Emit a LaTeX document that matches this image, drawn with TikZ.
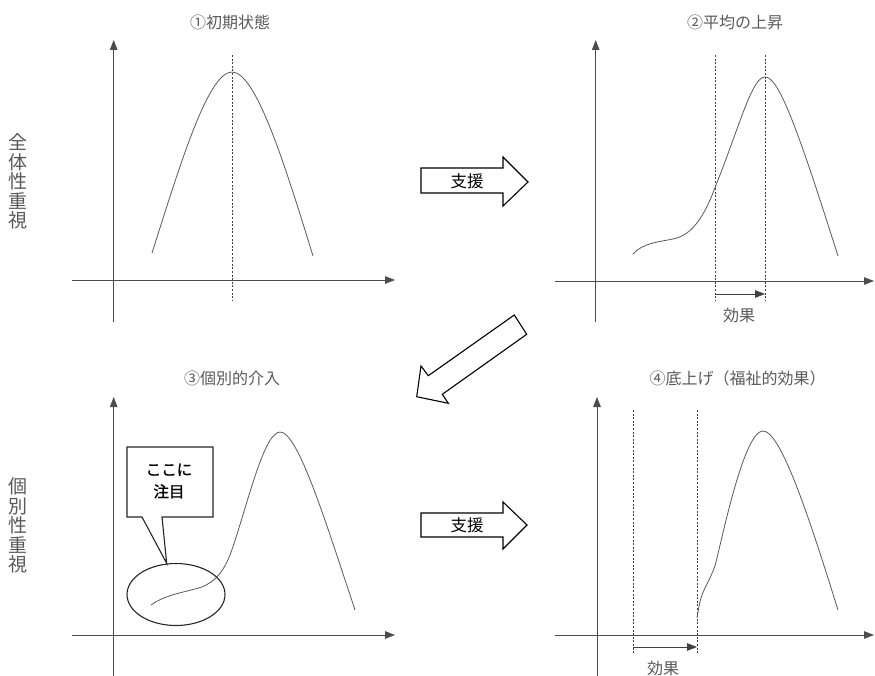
\documentclass[tikz,border=0pt]{standalone}
\usepackage{fontspec}
\newfontfamily\jp{Noto Sans CJK JP}
\newfontfamily\jpfb[FakeBold=1.2]{Noto Sans CJK JP}
\usetikzlibrary{arrows.meta}
\begin{document}
\begin{tikzpicture}[x=1pt,y=-1pt,
  axis/.style={draw=black!70, line width=0.9pt, -{Triangle[length=10pt,width=7.5pt]}},
  curve/.style={draw=black!65, line width=0.8pt},
  guide/.style={draw=black!75, line width=0.7pt, dash pattern=on 2pt off 1.6pt},
  effarrow/.style={draw=black!75, line width=0.8pt, -{Triangle[length=10pt,width=7.5pt]}},
  blockarrow/.style={draw=black, line width=1.1pt, fill=white, line join=miter},
  title/.style={font=\jp\fontsize{16}{19}\selectfont, text=black!65, inner sep=0pt},
  side/.style={font=\jp\fontsize{19}{19.5}\selectfont, text=black!65, align=center, inner sep=0pt},
  lbl/.style={font=\jp\fontsize{16.5}{19}\selectfont, text=black, inner sep=0pt},
  eff/.style={font=\jp\fontsize{16}{19}\selectfont, text=black!65, inner sep=0pt},
  callout/.style={font=\jpfb\fontsize{15.5}{22}\selectfont, text=black, align=center, inner sep=0pt}]
\useasboundingbox (0,0) rectangle (875,676);

% side labels
\node[side] (s1) at (18,181.5) {全\\体\\性\\重\\視};
\node[side] (s2) at (18,525.5) {個\\別\\性\\重\\視};

% titles
\node[title] (t1) at (230,22) {①初期状態};
\node[title] (t2) at (735,22) {②平均の上昇};
\node[title] (t3) at (232,378) {③個別的介入};
\node[title] (t4) at (737.5,378) {④底上げ（福祉的効果）};

% ---------- panel 1
\coordinate (a1x0) at (72,280);   \coordinate (a1x1) at (395,280);
\coordinate (a1y0) at (113.7,322); \coordinate (a1y1) at (113.7,40);
\draw[axis] (a1x0) -- (a1x1);
\draw[axis] (a1y0) -- (a1y1);
\coordinate (g1a) at (232,55); \coordinate (g1b) at (232,300);
\draw[guide] (g1a) -- (g1b);
\draw[curve] (152,253) .. controls (180,165) and (208,72) .. (232,72)
  .. controls (256,72) and (285,165) .. (313,256);

% ---------- panel 2
\coordinate (a2x0) at (555,281);   \coordinate (a2x1) at (874,281);
\coordinate (a2y0) at (595.7,322); \coordinate (a2y1) at (595.7,40);
\draw[axis] (a2x0) -- (a2x1);
\draw[axis] (a2y0) -- (a2y1);
\coordinate (g2a) at (715,55); \coordinate (g2b) at (715,300);
\coordinate (g2c) at (765,55); \coordinate (g2d) at (765,300);
\draw[guide] (g2a) -- (g2b);
\draw[guide] (g2c) -- (g2d);
\draw[curve] (633,254) .. controls (643,243) and (658,242) .. (673,239)
  .. controls (693,235) and (705,215) .. (716,185)
  .. controls (740,125) and (752,77) .. (765,77)
  .. controls (778,77) and (795,120) .. (838,256);
\coordinate (e2a) at (715,294); \coordinate (e2b) at (765,294);
\draw[effarrow] (e2a) -- (e2b);
\node[eff] (k2) at (739,315) {効果};

% ---------- panel 3
\coordinate (a3x0) at (72,635);    \coordinate (a3x1) at (395,635);
\coordinate (a3y0) at (113.7,676); \coordinate (a3y1) at (113.7,397);
\draw[axis] (a3x0) -- (a3x1);
\draw[axis] (a3y0) -- (a3y1);
\draw[curve] (151,605) .. controls (163,596) and (180,593) .. (195,589)
  .. controls (212,585) and (222,575) .. (230,555)
  .. controls (245,515) and (263,432) .. (280,432)
  .. controls (298,432) and (325,520) .. (355,610);
\draw[black!85, line width=1.1pt] (176,594.5) ellipse [x radius=49pt, y radius=31pt];
\draw[black!85, line width=1.1pt, fill=white, line join=miter]
  (127,447) -- (213,447) -- (213,517) -- (162,517) -- (166.7,563.3) -- (142,517) -- (127,517) -- cycle;
\node[callout] (c3) at (169,481) {ここに\\注目};

% ---------- panel 4
\coordinate (a4x0) at (555,635);   \coordinate (a4x1) at (874,635);
\coordinate (a4y0) at (597,676);   \coordinate (a4y1) at (597,397);
\draw[axis] (a4x0) -- (a4x1);
\draw[axis] (a4y0) -- (a4y1);
\coordinate (g4a) at (633,410); \coordinate (g4b) at (633,653);
\coordinate (g4c) at (697,410); \coordinate (g4d) at (697,653);
\draw[guide] (g4a) -- (g4b);
\draw[guide] (g4c) -- (g4d);
\draw[curve] (697,618) .. controls (699,606) and (700,598) .. (705,588)
  .. controls (710,578) and (714,570) .. (716,562)
  .. controls (725,525) and (745,431) .. (763,431)
  .. controls (781,431) and (810,520) .. (838,610);
\coordinate (e4a) at (633,647); \coordinate (e4b) at (697,647);
\draw[effarrow] (e4a) -- (e4b);
\node[eff] (k4) at (663,668) {効果};

% ---------- block arrows
\draw[blockarrow] (421,168) -- (503,168) -- (503,157) -- (528,182) -- (503,206) -- (503,193) -- (421,193) -- cycle;
\node[lbl] (b1) at (467,181) {支援};
\draw[blockarrow] (421,513) -- (503,513) -- (503,502) -- (527,525) -- (503,549) -- (503,537) -- (421,537) -- cycle;
\node[lbl] (b2) at (467,525) {支援};
\draw[blockarrow] (514.3,315) -- (526.7,334.3) -- (442.3,394.3) -- (448.3,403.3) -- (416.7,396.7) -- (421,366) -- (428.3,375.7) -- cycle;
\end{tikzpicture}
\end{document}
